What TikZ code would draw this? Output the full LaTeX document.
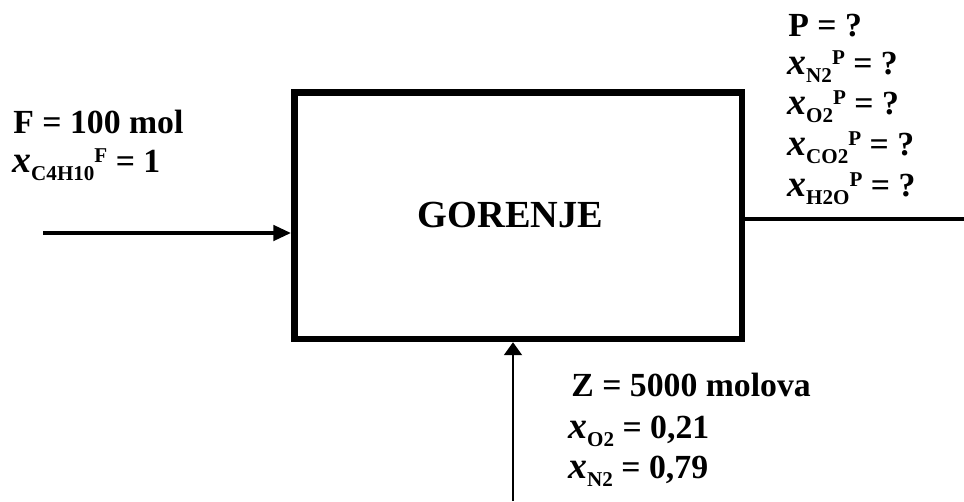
\documentclass[tikz,border=0pt]{standalone}
\usepackage{fontspec}
\setmainfont{Liberation Serif}
\usetikzlibrary{arrows.meta}

\newcommand{\subsz}{\fontsize{12}{12}\selectfont}
\newcommand{\xmol}[2]{{\fontsize{21.5}{24}\selectfont\itshape x}\raisebox{-0.24em}{\subsz #1}\raisebox{0.28em}{\subsz #2}}

\begin{document}
\begin{tikzpicture}[x=0.02cm,y=-0.02cm]

        \useasboundingbox (0,0) rectangle (964,501);

        \begin{scope}[every node/.style={draw, line width=0.13cm, minimum width=8.95cm, minimum height=4.93cm}]
          \node (box) at (518.25,215.75) {};
        \end{scope}

        \coordinate (feed)  at (43,233);
        \coordinate (prod)  at (964,219);
        \coordinate (air)   at (513,501);

        \begin{scope}[every node/.style={anchor=base west, inner sep=0pt, font=\fontsize{19.2}{22}\selectfont\bfseries}]
          \node (f1) at (13,133)  {F = 100 mol};
          \node (f2) at (12,172)  {\xmol{C4H10}{F} = 1};
          \node (p1) at (788,36)  {P = ?};
          \node (p2) at (787,74)  {\xmol{N2}{P} = ?};
          \node (p3) at (787,114) {\xmol{O2}{P} = ?};
          \node (p4) at (787,155) {\xmol{CO2}{P} = ?};
          \node (p5) at (787,196) {\xmol{H2O}{P} = ?};
          \node (z1) at (571,396) {Z = 5000 molova};
          \node (z2) at (568,438) {\xmol{O2}{} = 0,21};
          \node (z3) at (568,478) {\xmol{N2}{} = 0,79};
        \end{scope}

        \node[anchor=base, inner sep=0pt, font=\fontsize{21.8}{24}\selectfont\bfseries] (name) at (510.5,227) {GORENJE};

        \draw[line width=0.09cm, -{Triangle[length=0.36cm,width=0.3cm]}] (feed) -- (feed -| box.west);
        \draw[line width=0.08cm] (box.east |- prod) -- (prod);
        \draw[line width=0.04cm, -{Triangle[length=0.26cm,width=0.36cm]}] (air) -- (air |- box.south);

      \end{tikzpicture}
\end{document}
